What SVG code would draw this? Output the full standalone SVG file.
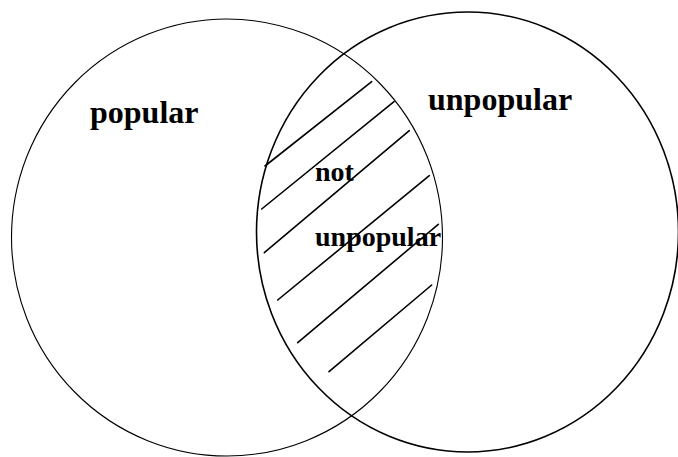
<svg xmlns="http://www.w3.org/2000/svg" width="678" height="457" viewBox="0 0 678 457">
<style>
.set{fill:none;stroke:#000}
.lbl{font-family:"Liberation Serif","Times New Roman",serif;font-weight:bold;fill:#000}
.h{stroke:#000;stroke-width:1.6;stroke-linecap:round}
</style>
<rect width="678" height="457" fill="#fff"/>
<g id="popular-set">
<ellipse class="set" cx="227" cy="237.5" rx="215.5" ry="218.5" stroke-width="1.1"/>
<text class="lbl" x="90" y="123" font-size="32">popular</text>
</g>
<g id="unpopular-set">
<ellipse class="set" cx="467.5" cy="232" rx="211" ry="220" stroke-width="1.6"/>
<text class="lbl" x="428" y="110" font-size="32">unpopular</text>
</g>
<g id="connectors">
<line class="h" x1="265" y1="166" x2="371.7" y2="81.7" stroke-width="2"/>
<line class="h" x1="261.7" y1="209" x2="394" y2="101.7" stroke-width="2"/>
<line class="h" x1="264.3" y1="252.7" x2="409.3" y2="130.7"/>
<line class="h" x1="277.7" y1="300" x2="429.3" y2="175.7"/>
<line class="h" x1="297.7" y1="342.7" x2="438.3" y2="224.3"/>
<line class="h" x1="329" y1="371.7" x2="431.7" y2="285"/>
</g>
<g id="intersection">
<text class="lbl" x="315" y="181" font-size="28">not</text>
<text class="lbl" x="315" y="246" font-size="28">unpopular</text>
</g>
</svg>
